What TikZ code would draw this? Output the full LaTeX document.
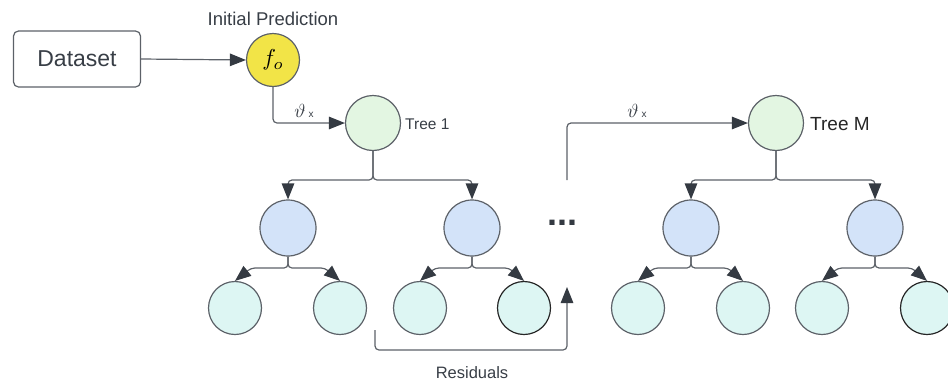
\documentclass[tikz,border=0pt]{standalone}
\usepackage{graphicx}
\usepackage{fontspec}
\setmainfont{Liberation Sans}
\usetikzlibrary{arrows.meta}
\definecolor{linegray}{HTML}{5C6168}
\definecolor{tipdark}{HTML}{343A42}
\definecolor{txt}{HTML}{383E46}
\definecolor{yel}{HTML}{F2E447}
\definecolor{rootgreen}{HTML}{E3F6E2}
\definecolor{innerblue}{HTML}{D3E3F9}
\definecolor{leafcyan}{HTML}{DDF6F3}
\newcommand{\thetax}{\scalebox{1.9}{$\vartheta$}\kern3pt{\fontsize{10}{10}\selectfont x}}
\begin{document}
\begin{tikzpicture}[x=1pt,y=-1pt,
  circ/.style={circle, draw=linegray, line width=1.2pt, inner sep=0pt},
  rootnode/.style={circ, fill=rootgreen, minimum size=55pt},
  innernode/.style={circ, fill=innerblue, minimum size=56pt},
  leafnode/.style={circ, fill=leafcyan, minimum size=53pt},
  darkleaf/.style={leafnode, draw=black!85},
  edge/.style={draw=linegray, line width=1.2pt, rounded corners=4pt,
    -{Triangle[length=16pt,width=12.5pt,color=tipdark]}},
  lbl/.style={text=txt, inner sep=0pt, anchor=base}]
\useasboundingbox (0,0) rectangle (948,381);
\clip (0,0) rectangle (948,381);

% input and initial model
\node[draw=linegray, line width=1.2pt, rounded corners=5pt, minimum width=127pt,
  minimum height=56pt, text=txt, font=\fontsize{23}{23}\selectfont] (ds) at (77,59) {Dataset};
\node[circ, fill=yel, minimum size=53pt] (f0) at (273,60) {\scalebox{2.3}{$f_o$}};
\node[lbl, font=\fontsize{18.5}{18.5}\selectfont] (ip) at (273,25) {Initial Prediction};
\draw[edge] (ds.east) -- (f0.west);

% first tree
\node[rootnode] (t1) at (373,123) {};
\node[lbl, anchor=base west, font=\fontsize{15.5}{15.5}\selectfont] (t1l) at (405,129) {Tree 1};
\draw[edge] (f0.south) |- (t1.west);
\node[lbl] (th1) at (304,117) {\thetax};

\node[innernode] (a1) at (288,228) {};
\node[innernode] (a2) at (472,228) {};
\coordinate (ja) at (373,180);
\draw[edge] (t1.south) -- (ja) -| (a1.north);
\draw[edge] (t1.south) -- (ja) -| (a2.north);

\node[leafnode] (l1) at (235,308) {};
\node[leafnode] (l2) at (340,308) {};
\node[leafnode] (l3) at (420,308) {};
\node[darkleaf] (l4) at (524,308) {};
\draw[edge] (a1.south) -- (288,268) -- (251,268) -- (l1.north);
\draw[edge] (a1.south) -- (288,268) -- (325,268) -- (l2.north);
\draw[edge] (a2.south) -- (472,268) -- (435,268) -- (l3.north);
\draw[edge] (a2.south) -- (472,268) -- (509,268) -- (l4.north);

% residuals feed the next tree
\coordinate (r0) at (375,330);
\coordinate (r1) at (567,287);
\draw[edge] (r0) -- (375,350) -- (567,350) -- (r1);
\node[lbl, font=\fontsize{16.5}{16.5}\selectfont] (res) at (472,378) {Residuals};

\node[lbl, text=tipdark, font=\bfseries\fontsize{36}{36}\selectfont] (dots) at (562,225) {...};

% last tree
\node[rootnode] (tm) at (776,123) {};
\node[lbl, anchor=base west, font=\fontsize{19}{19}\selectfont, text=black!85] (tml) at (810,130) {Tree M};
\coordinate (g0) at (567,180);
\draw[edge] (g0) |- (tm.west);
\node[lbl] (th2) at (637,117) {\thetax};

\node[innernode] (b1) at (691,228) {};
\node[innernode] (b2) at (875,228) {};
\coordinate (jb) at (776,180);
\draw[edge] (tm.south) -- (jb) -| (b1.north);
\draw[edge] (tm.south) -- (jb) -| (b2.north);

\node[leafnode] (m1) at (638,308) {};
\node[leafnode] (m2) at (743,308) {};
\node[leafnode] (m3) at (822,308) {};
\node[darkleaf] (m4) at (927,308) {};
\draw[edge] (b1.south) -- (691,268) -- (654,268) -- (m1.north);
\draw[edge] (b1.south) -- (691,268) -- (728,268) -- (m2.north);
\draw[edge] (b2.south) -- (875,268) -- (838,268) -- (m3.north);
\draw[edge] (b2.south) -- (875,268) -- (912,268) -- (m4.north);
\end{tikzpicture}
\end{document}
